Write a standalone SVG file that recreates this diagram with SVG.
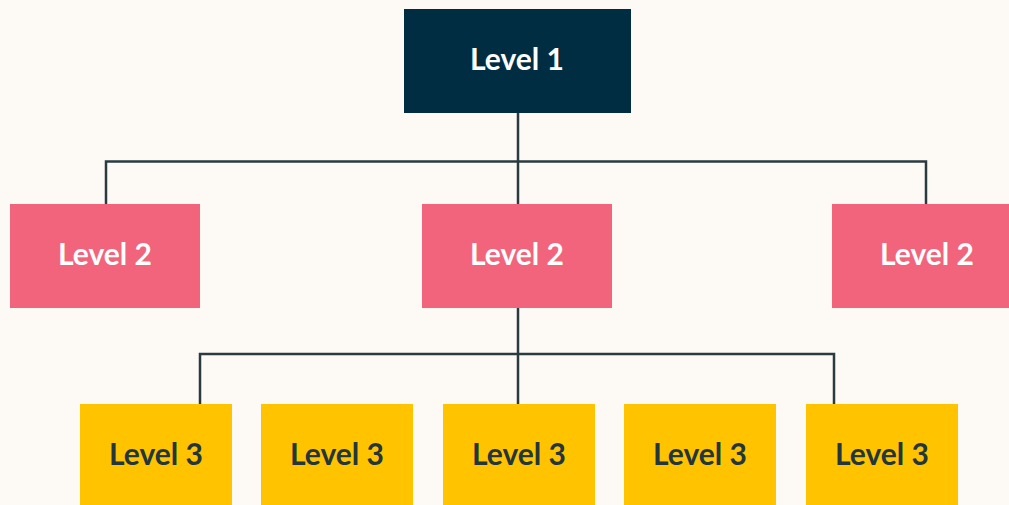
<svg xmlns="http://www.w3.org/2000/svg" width="1009" height="505" viewBox="0 0 1009 505">
<style>
.l1{fill:#002D42}
.l2{fill:#F2637C}
.l3{fill:#FFC300}
.t{font-family:Lato,"Open Sans",sans-serif;font-weight:700;font-size:30px;text-anchor:middle}
.tw{fill:#FFFFFF}
.td{fill:#23363D}
.c{fill:none;stroke:#2A3B40;stroke-width:2.5}
</style>
<rect width="1009" height="505" fill="#FDF9F4"/>
<g id="connectors">
<path class="c" d="M518 113V204M106 204V161.5H926V204"/>
<path class="c" d="M518 308V404M200 404V354H834V404"/>
</g>
<g id="n1"><rect class="l1" x="404" y="9" width="227" height="104"/><text class="t tw" x="517" y="70">Level 1</text></g>
<g id="n2a"><rect class="l2" x="10" y="204" width="190" height="104"/><text class="t tw" x="105" y="265">Level 2</text></g>
<g id="n2b"><rect class="l2" x="422" y="204" width="190" height="104"/><text class="t tw" x="517" y="265">Level 2</text></g>
<g id="n2c"><rect class="l2" x="832" y="204" width="190" height="104"/><text class="t tw" x="927" y="265">Level 2</text></g>
<g id="n3a"><rect class="l3" x="80" y="404" width="152" height="104"/><text class="t td" x="156" y="465">Level 3</text></g>
<g id="n3b"><rect class="l3" x="261" y="404" width="152" height="104"/><text class="t td" x="337" y="465">Level 3</text></g>
<g id="n3c"><rect class="l3" x="443" y="404" width="152" height="104"/><text class="t td" x="519" y="465">Level 3</text></g>
<g id="n3d"><rect class="l3" x="624" y="404" width="152" height="104"/><text class="t td" x="700" y="465">Level 3</text></g>
<g id="n3e"><rect class="l3" x="806" y="404" width="152" height="104"/><text class="t td" x="882" y="465">Level 3</text></g>
</svg>
